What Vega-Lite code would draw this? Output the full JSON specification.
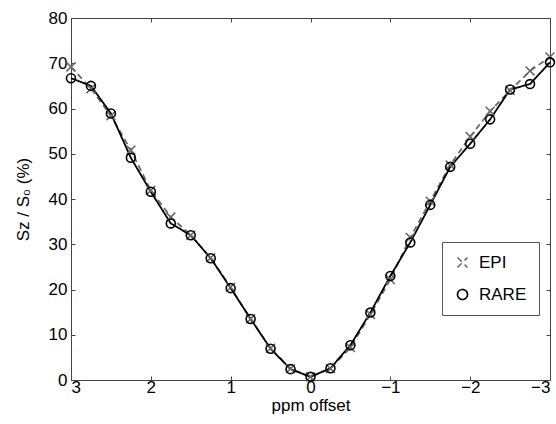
{
  "$schema": "https://vega.github.io/schema/vega-lite/v6.json",
  "width": 479,
  "height": 362,
  "autosize": {"type": "none"},
  "padding": {"left": 71, "top": 18, "right": 6, "bottom": 44},
  "background": "white",
  "config": {
    "font": "Liberation Sans",
    "view": {"stroke": "#444", "strokeWidth": 1},
    "axis": {"grid": false, "domain": false, "tickColor": "#444", "tickSize": -4, "labelFontSize": 17, "labelColor": "#000", "titleFontSize": 17, "titleFontWeight": "normal", "titleColor": "#000", "labelFont": "Liberation Sans", "titleFont": "Liberation Sans"},
    "legend": {"orient": "none", "legendX": 371, "legendY": 224, "title": null, "strokeColor": "#555", "fillColor": "white", "padding": 12, "labelFontSize": 17, "labelFont": "Liberation Sans", "labelColor": "#000", "rowPadding": 14, "labelOffset": 8, "symbolSize": 100, "symbolStrokeWidth": 1.6}
  },
  "data": {"values": [
    {"ppm": 3, "series": "EPI", "s": 69.2},
    {"ppm": 2.75, "series": "EPI", "s": 64.4},
    {"ppm": 2.5, "series": "EPI", "s": 58.4},
    {"ppm": 2.25, "series": "EPI", "s": 50.8},
    {"ppm": 2, "series": "EPI", "s": 41.9},
    {"ppm": 1.75, "series": "EPI", "s": 36.0},
    {"ppm": 1.5, "series": "EPI", "s": 32.0},
    {"ppm": 1.25, "series": "EPI", "s": 27.0},
    {"ppm": 1, "series": "EPI", "s": 20.5},
    {"ppm": 0.75, "series": "EPI", "s": 13.5},
    {"ppm": 0.5, "series": "EPI", "s": 7.0},
    {"ppm": 0.25, "series": "EPI", "s": 2.5},
    {"ppm": 0, "series": "EPI", "s": 0.7},
    {"ppm": -0.25, "series": "EPI", "s": 2.5},
    {"ppm": -0.5, "series": "EPI", "s": 7.2},
    {"ppm": -0.75, "series": "EPI", "s": 14.5},
    {"ppm": -1, "series": "EPI", "s": 22.2},
    {"ppm": -1.25, "series": "EPI", "s": 31.5},
    {"ppm": -1.5, "series": "EPI", "s": 39.5},
    {"ppm": -1.75, "series": "EPI", "s": 47.5},
    {"ppm": -2, "series": "EPI", "s": 53.8},
    {"ppm": -2.25, "series": "EPI", "s": 59.4},
    {"ppm": -2.5, "series": "EPI", "s": 64.0},
    {"ppm": -2.75, "series": "EPI", "s": 68.3},
    {"ppm": -3, "series": "EPI", "s": 71.4},
    {"ppm": 3, "series": "RARE", "s": 66.7},
    {"ppm": 2.75, "series": "RARE", "s": 65.0},
    {"ppm": 2.5, "series": "RARE", "s": 58.9},
    {"ppm": 2.25, "series": "RARE", "s": 49.1},
    {"ppm": 2, "series": "RARE", "s": 41.6},
    {"ppm": 1.75, "series": "RARE", "s": 34.6},
    {"ppm": 1.5, "series": "RARE", "s": 32.0},
    {"ppm": 1.25, "series": "RARE", "s": 26.9},
    {"ppm": 1, "series": "RARE", "s": 20.3},
    {"ppm": 0.75, "series": "RARE", "s": 13.5},
    {"ppm": 0.5, "series": "RARE", "s": 6.9},
    {"ppm": 0.25, "series": "RARE", "s": 2.4},
    {"ppm": 0, "series": "RARE", "s": 0.7},
    {"ppm": -0.25, "series": "RARE", "s": 2.6},
    {"ppm": -0.5, "series": "RARE", "s": 7.7},
    {"ppm": -0.75, "series": "RARE", "s": 14.9},
    {"ppm": -1, "series": "RARE", "s": 23.0},
    {"ppm": -1.25, "series": "RARE", "s": 30.4},
    {"ppm": -1.5, "series": "RARE", "s": 38.7},
    {"ppm": -1.75, "series": "RARE", "s": 47.1},
    {"ppm": -2, "series": "RARE", "s": 52.2},
    {"ppm": -2.25, "series": "RARE", "s": 57.6},
    {"ppm": -2.5, "series": "RARE", "s": 64.2},
    {"ppm": -2.75, "series": "RARE", "s": 65.4},
    {"ppm": -3, "series": "RARE", "s": 70.2}
  ]},
  "layer": [
    {
      "mark": {"type": "line", "strokeWidth": 1.8},
      "encoding": {
        "x": {"field": "ppm", "type": "quantitative", "scale": {"domain": [-3, 3], "reverse": true, "nice": false, "zero": false},
              "axis": {"values": [-3, -2, -1, 0, 1, 2, 3], "title": "ppm offset", "titlePadding": 2, "labelPadding": 3, "orient": "bottom"}},
        "y": {"field": "s", "type": "quantitative", "scale": {"domain": [0, 80], "nice": false},
              "axis": {"values": [0, 10, 20, 30, 40, 50, 60, 70, 80], "title": "Sz / S₀ (%)", "titlePadding": 16, "labelPadding": 8, "orient": "left"}},
        "color": {"field": "series", "type": "nominal", "scale": {"domain": ["EPI", "RARE"], "range": ["#6a6a6a", "#000000"]},
                  "legend": {"labelFontSize": 17}},
        "strokeDash": {"field": "series", "type": "nominal", "scale": {"domain": ["EPI", "RARE"], "range": [[6, 4], [1, 0]]}, "legend": null}
      }
    },
    {
      "mark": {"type": "point", "filled": false, "strokeWidth": 1.6, "size": 80, "opacity": 1},
      "encoding": {
        "x": {"field": "ppm", "type": "quantitative", "axis": {"orient": "top", "values": [-3, -2, -1, 0, 1, 2, 3], "labels": false, "title": null}},
        "y": {"field": "s", "type": "quantitative", "axis": {"orient": "right", "values": [0, 10, 20, 30, 40, 50, 60, 70, 80], "labels": false, "title": null}},
        "color": {"field": "series", "type": "nominal", "scale": {"domain": ["EPI", "RARE"], "range": ["#6a6a6a", "#000000"]},
                  "legend": {"labelFontSize": 17}},
        "shape": {"field": "series", "type": "nominal", "scale": {"domain": ["EPI", "RARE"], "range": ["M-1,-1L1,1M-1,1L1,-1", "circle"]}}
      }
    }
  ]
}
